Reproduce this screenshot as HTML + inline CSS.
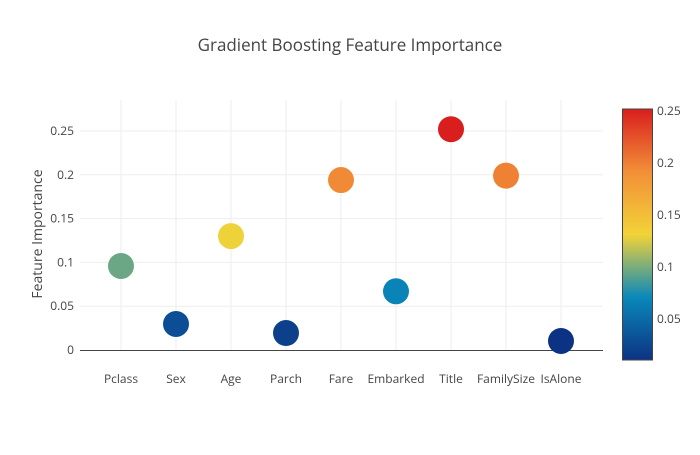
<!DOCTYPE html>
<html><head><meta charset="utf-8"><style>
body{margin:0;background:#fff;}
svg{font-family:"Open Sans","Liberation Sans",sans-serif;}
</style></head><body>
<svg id="chart" width="700" height="450">
<defs><linearGradient id="cs" x1="0" y1="1" x2="0" y2="0">
<stop offset="0" stop-color="rgb(12,51,131)"/><stop offset="0.25" stop-color="rgb(10,136,186)"/>
<stop offset="0.5" stop-color="rgb(242,211,56)"/><stop offset="0.75" stop-color="rgb(242,143,56)"/>
<stop offset="1" stop-color="rgb(217,30,30)"/></linearGradient></defs>
<text x="350" y="51" text-anchor="middle" font-size="17" fill="#444">Gradient Boosting Feature Importance</text>
<text transform="translate(42,234) rotate(-90)" text-anchor="middle" font-size="14" fill="#444">Feature Importance</text>
<g id="grid"></g><g id="marks"></g><g id="cbar"></g>
</svg>
<script>
const categories=["Pclass","Sex","Age","Parch","Fare","Embarked","Title","FamilySize","IsAlone"];
const values=[0.0959,0.0297,0.130,0.0194,0.194,0.067,0.252,0.199,0.0103];
const yTicks=[0,0.05,0.1,0.15,0.2,0.25];
const yTickLabels=["0","0.05","0.1","0.15","0.2","0.25"];
const cbTicks=[0.05,0.1,0.15,0.2,0.25];
const cbTickLabels=["0.05","0.1","0.15","0.2","0.25"];
const NS="http://www.w3.org/2000/svg";
const svg=document.getElementById('chart');
const grid=document.getElementById('grid'),marks=document.getElementById('marks'),cbar=document.getElementById('cbar');
const y=v=>350-v*876;
const x=i=>121+55*i;
function mk(t,a,p){const e=document.createElementNS(NS,t);for(const k in a)e.setAttribute(k,a[k]);p.appendChild(e);return e;}
const vmin=Math.min(...values),vmax=Math.max(...values);
const stops=[[0,[12,51,131]],[0.25,[10,136,186]],[0.5,[242,211,56]],[0.75,[242,143,56]],[1,[217,30,30]]];
function col(v){let t=(v-vmin)/(vmax-vmin);for(let i=0;i<4;i++){const[a,c1]=stops[i],[b,c2]=stops[i+1];if(t<=b){const f=(t-a)/(b-a);return `rgb(${c1.map((c,j)=>Math.round(c+(c2[j]-c)*f)).join(',')})`;}}return 'rgb(217,30,30)';}
yTicks.forEach((v,i)=>{
 if(v>0){const l=mk('line',{x1:80,x2:603,y1:y(v),y2:y(v),stroke:'#eee','stroke-width':1},grid);
 }
 const t=mk('text',{x:74,y:y(v)+4,'text-anchor':'end','font-size':12,fill:'#444'},grid);t.textContent=yTickLabels[i];
 
});
categories.forEach((c,i)=>{
 const l=mk('line',{x1:x(i),x2:x(i),y1:100,y2:350,stroke:'#eee','stroke-width':1},grid);
 
 const t=mk('text',{x:x(i),y:383,'text-anchor':'middle','font-size':12,fill:'#444'},grid);t.textContent=c;
 
});
const ax=mk('line',{x1:80,x2:603,y1:350.5,y2:350.5,stroke:'#444','stroke-width':1},grid);

values.forEach((v,i)=>{
 const c=mk('circle',{cx:x(i),cy:y(v),r:13,fill:col(v)},marks);
 
});
const cbTop=109,cbBot=360;
const cy=v=>cbBot-(v-vmin)/(vmax-vmin)*(cbBot-cbTop);
const r=mk('rect',{x:622.5,y:cbTop,width:30,height:cbBot-cbTop,fill:'url(#cs)',stroke:'#444','stroke-width':1},cbar);

cbTicks.forEach((v,i)=>{
 const t=mk('text',{x:657,y:cy(v)+4,'font-size':12,fill:'#444'},cbar);t.textContent=cbTickLabels[i];
 
});
</script>
</body></html>
